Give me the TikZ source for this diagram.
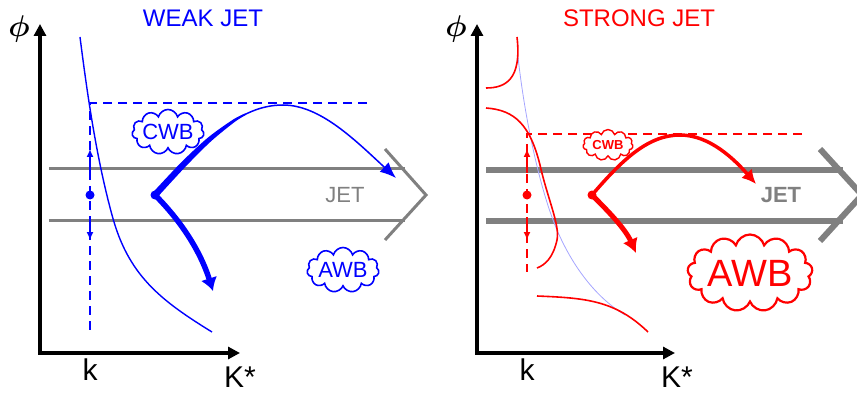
\RequirePackage{fix-cm}
\documentclass[tikz,border=0pt]{standalone}
\usepackage{bm}
\usepackage{fontspec}
\setmainfont{Liberation Sans}
\usetikzlibrary{arrows.meta,shapes.symbols}
\definecolor{jetgray}{RGB}{128,128,128}
\definecolor{faintblue}{RGB}{165,165,255}
\tikzset{
  axisline/.style={line width=4pt,-{Triangle[length=12pt,width=12pt]}},
  lbl/.style={font=\fontsize{22}{24}\selectfont, inner sep=0pt},
  axlbl/.style={font=\fontsize{30}{32}\selectfont, inner sep=0pt},
  ttl/.style={font=\fontsize{24}{26}\selectfont, inner sep=0pt},
  dashB/.style={blue,line width=1.5pt,dash pattern=on 9pt off 6pt},
  dashR/.style={red,line width=1.5pt,dash pattern=on 9pt off 6pt},
  cloudbox/.style={cloud, cloud puffs=11, cloud ignores aspect, draw, inner sep=0pt},
  smalltip/.style={-{Latex[length=8pt,width=7pt]}},
}
\newcommand{\phisym}{{\fontsize{30}{32}\selectfont$\bm{\phi}$}}
\begin{document}
\begin{tikzpicture}[x=1pt,y=-1pt]
\useasboundingbox (0,0) rectangle (857,393);
\clip (0,0) rectangle (857,393);
% ================= LEFT PANEL =================
\coordinate (Lorig) at (40,353);
\coordinate (Ltop) at (40,24);
\coordinate (Lright) at (240,353);
\draw[axisline] (Lorig) -- (Ltop);
\draw[axisline] ([xshift=-2pt]Lorig) -- (Lright);
\node[inner sep=0pt] (phiL) at (19,29) {\phisym};
\node[axlbl] (kL) at (90,370) {k};
\node[axlbl] (KL) at (240,377) {K*};
\node[ttl,blue] (titleL) at (203,18) {WEAK JET};
% jet
\draw[jetgray,line width=3pt] (49,169) -- (405,169);
\draw[jetgray,line width=3pt] (49,220) -- (405,220);
\draw[jetgray,line width=3pt] (385,149) -- (426,195) -- (385,240);
\node[lbl,jetgray] (jetL) at (345,195) {JET};
% curve
\draw[blue,line width=1.4pt] (80,37) .. controls (88,100) and (97,160) .. (112,215)
  .. controls (128,275) and (160,300) .. (212,332);
% dashed
\coordinate (dLtop) at (90,103);
\coordinate (dLend) at (367,103);
\coordinate (dLbot) at (90,333);
\draw[dashB] (dLend) -- (dLtop) -- (dLbot);
\coordinate (dotL) at (90,195);
\coordinate (upL) at (90,149);
\coordinate (dnL) at (90,240);
\draw[blue,line width=1.5pt,smalltip] (dotL) ++(0,-22) -- (upL);
\draw[blue,line width=1.5pt,smalltip] (dotL) ++(0,22) -- (dnL);
\fill[blue] (dotL) circle (4.5pt);
% thick arrows
\coordinate (srcL) at (155,195);
\coordinate (peakL) at (283,105);
\coordinate (endL) at (396,178);
\fill[blue] (srcL) circle (4.5pt);
\draw[blue,line width=1.5pt,-{Latex[length=16pt,width=13pt]}] (srcL) .. controls (205,140) and (240,105) .. (peakL)
  .. controls (320,105) and (355,140) .. (endL);
\fill[blue] plot[smooth] coordinates {(152.6,192.8) (181.2,162.4) (207.7,137.8) (233.0,119.6) (245.5,113.3)}
  -- plot[smooth] coordinates {(246.1,114.7) (234.6,122.0) (210.9,141.4) (185.6,166.6) (157.4,197.2)} -- cycle;
\coordinate (downL) at (213,291);
\draw[blue,line width=5.5pt,-{Latex[length=13pt,width=17pt]}] (srcL) .. controls (180,220) and (200,250) .. (downL);
% clouds
\node[cloudbox,blue,line width=1.6pt,minimum width=72pt,minimum height=45pt] (cwbL) at (168,132) {};
\node[lbl,blue] at (cwbL.center) {CWB};
\node[cloudbox,blue,line width=1.6pt,minimum width=72pt,minimum height=45pt] (awbL) at (343,270) {};
\node[lbl,blue] at (awbL.center) {AWB};
% ================= RIGHT PANEL =================
\coordinate (Rorig) at (477,353);
\coordinate (Rtop) at (477,24);
\coordinate (Rright) at (675,353);
\draw[axisline] (Rorig) -- (Rtop);
\draw[axisline] ([xshift=-2pt]Rorig) -- (Rright);
\node[inner sep=0pt] (phiR) at (456,29) {\phisym};
\node[axlbl] (kR) at (527,370) {k};
\node[axlbl] (KR) at (677,377) {K*};
\node[ttl,red] (titleR) at (639,18) {STRONG JET};
% jet
\draw[jetgray,line width=6pt] (486,170) -- (843,170);
\draw[jetgray,line width=6pt] (486,221) -- (843,221);
\draw[jetgray,line width=6pt] (820,149) -- (862,195) -- (820,241);
\node[lbl,jetgray,font=\bfseries\fontsize{22}{24}\selectfont] (jetR) at (781,195) {JET};
% faint curve
\draw[faintblue,line width=0.8pt] (518,57) .. controls (525,120) and (540,190) .. (557,230)
  .. controls (575,272) and (600,300) .. (625,315);
% red curves
\draw[red,line width=1.6pt] (517,37) .. controls (522,80) and (505,88) .. (486,88);
\draw[red,line width=1.6pt] (486,108) .. controls (515,110) and (530,125) .. (540,165)
  .. controls (548,200) and (560,225) .. (557,240) .. controls (553,258) and (545,265) .. (537,268);
\draw[red,line width=1.6pt] (537,296) .. controls (585,298) and (615,300) .. (648,332);
% dashed
\coordinate (dRtop) at (527,134);
\coordinate (dRend) at (802,134);
\coordinate (dRbot) at (527,272);
\draw[dashR] (dRend) -- (dRtop) -- (dRbot);
\coordinate (dotR) at (527,195);
\coordinate (upR) at (527,149);
\coordinate (dnR) at (527,240);
\draw[red,line width=1.5pt,smalltip] (dotR) ++(0,-22) -- (upR);
\draw[red,line width=1.5pt,smalltip] (dotR) ++(0,22) -- (dnR);
\fill[red] (dotR) circle (4.5pt);
% thick arrows
\coordinate (srcR) at (592,195);
\fill[red] (srcR) circle (4.5pt);
\coordinate (endR) at (756,184);
\draw[red,line width=3.5pt,-{Latex[length=14pt,width=14pt]}] (srcR) .. controls (622,160) and (648,135) .. (680,135)
  .. controls (710,135) and (735,160) .. (endR);
\coordinate (downR) at (636,253);
\draw[red,line width=5pt,-{Latex[length=14pt,width=16pt]}] (srcR) .. controls (605,208) and (625,228) .. (downR);
% clouds
\node[cloudbox,red,line width=1.4pt,fill=white,minimum width=50pt,minimum height=31pt] (cwbR) at (608,145) {};
\node[red,inner sep=0pt,font=\bfseries\fontsize{13}{15}\selectfont] at (cwbR.center) {CWB};
\node[cloudbox,red,line width=2.2pt,minimum width=125pt,minimum height=77pt,cloud puffs=13] (awbR) at (750,273) {};
\node[red,inner sep=0pt,font=\fontsize{38}{40}\selectfont] at (awbR.center) {AWB};
\end{tikzpicture}
\end{document}
